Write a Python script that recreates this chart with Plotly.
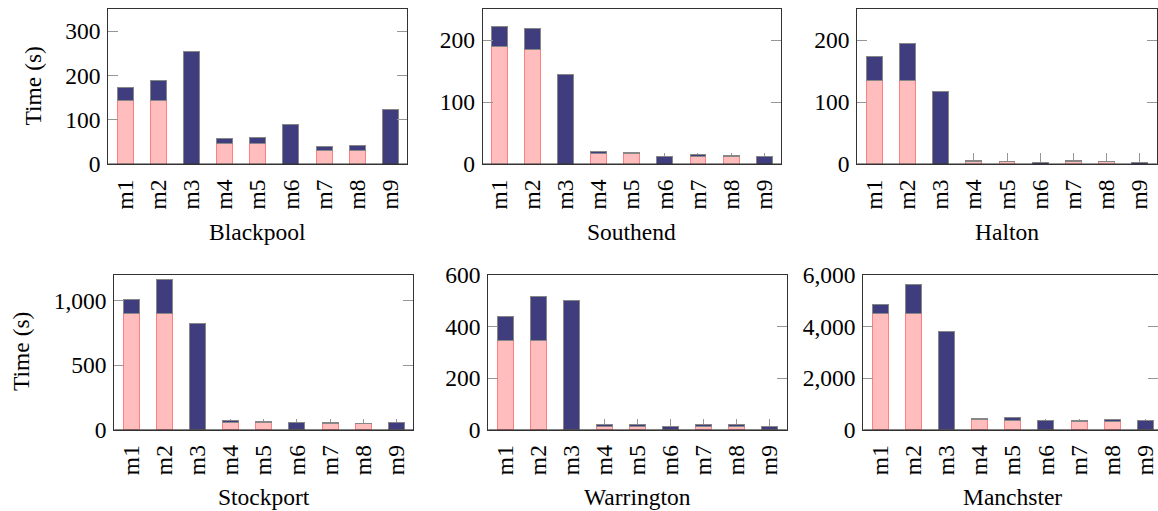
import plotly.graph_objects as go

methods = ["m1", "m2", "m3", "m4", "m5", "m6", "m7", "m8", "m9"]
cities = ["Blackpool", "Southend", "Halton", "Stockport", "Warrington", "Manchster"]

# lower (pink) segment and upper (navy) segment of each stacked bar, seconds
blackpool_pink = [144, 143, 0, 47, 47, 0, 30, 30, 0]
blackpool_navy = [28, 45, 253, 11, 13, 89, 10, 11, 123]
southend_pink = [190, 184, 0, 16.5, 17, 0, 11.5, 12, 0]
southend_navy = [31, 34, 145, 3.5, 1, 12, 4, 1.5, 12.5]
halton_pink = [135, 135, 0, 4.5, 4, 0, 4.5, 4, 0]
halton_navy = [39, 60, 117, 1.5, 0.5, 3, 1.5, 0.5, 3]
stockport_pink = [902, 902, 0, 59, 57, 0, 49, 48, 0]
stockport_navy = [108, 263, 822, 11, 7, 54, 10, 3, 53]
warrington_pink = [345, 345, 0, 12, 12, 0, 12, 12, 0]
warrington_navy = [93, 172, 499, 7, 7, 14, 7, 7, 14]
manchester_pink = [4516, 4516, 0, 387, 374, 0, 323, 323, 0]
manchester_navy = [349, 1110, 3806, 52, 103, 370, 38, 90, 361]

pinks = [blackpool_pink, southend_pink, halton_pink, stockport_pink, warrington_pink, manchester_pink]
navys = [blackpool_navy, southend_navy, halton_navy, stockport_navy, warrington_navy, manchester_navy]
y_max = [350, 250, 250, 1200, 600, 6000]
y_ticks = [[0, 100, 200, 300], [0, 100, 200], [0, 100, 200], [0, 500, 1000],
           [0, 200, 400, 600], [0, 2000, 4000, 6000]]

W, H = 1158, 511
# pixel boxes (left, right, top, bottom)
boxes = [
    (108.3, 407.3, 9, 164),
    (482.7, 781.0, 9, 164),
    (857.3, 1156.7, 9, 164),
    (114.3, 413.3, 274.7, 429.7),
    (488.3, 786.7, 274.7, 429.7),
    (863.3, 1162.3, 274.7, 429.7),
]

PINK = "rgb(255,189,189)"
PINK_EDGE = "rgb(255,128,128)"
NAVY = "rgb(63,61,125)"
NAVY_EDGE = "rgb(135,135,135)"
AXIS = "rgb(50,50,50)"
TICK = "rgb(150,150,150)"
FONT = "Liberation Serif"
FS = 23.5

fig = go.Figure()
layout = dict(
    template="none",
    width=W, height=H, margin=dict(l=0, r=0, t=0, b=0, pad=0), autosize=False,
    barmode="stack", paper_bgcolor="white", plot_bgcolor="white",
    showlegend=False, font=dict(family=FONT, size=FS, color="black"),
)
annotations = []
shapes = []

for i in range(6):
    n = i + 1
    xs = "x" if n == 1 else f"x{n}"
    ys = "y" if n == 1 else f"y{n}"
    l, r, t, b = boxes[i]
    rng_hi = 8.51
    if r > W:
        # panel is cut at the right edge of the picture
        span = 9.02 / (r - l)
        rng_hi = -0.51 + (W - l) * span
        r = W
    fig.add_trace(go.Bar(x=methods, y=pinks[i], xaxis=xs, yaxis=ys, width=0.48,
                         marker=dict(color=PINK, line=dict(color=PINK_EDGE, width=1))))
    fig.add_trace(go.Bar(x=methods, y=navys[i], xaxis=xs, yaxis=ys, width=0.48,
                         marker=dict(color=NAVY, line=dict(color=NAVY_EDGE, width=1))))
    xkey = "xaxis" if n == 1 else f"xaxis{n}"
    ykey = "yaxis" if n == 1 else f"yaxis{n}"
    layout[xkey] = dict(
        type="category", domain=[l / W, r / W], anchor=ys, range=[-0.51, rng_hi],
        automargin=False,
        showline=True, linecolor=AXIS, linewidth=1, mirror=True,
        ticks="inside", ticklen=11, tickcolor=TICK, tickwidth=1,
        tickangle=-90, tickfont=dict(family=FONT, size=FS, color="black"),
        ticklabelstandoff=5,
        layer="below traces", showgrid=False, zeroline=False, fixedrange=True,
    )
    layout[ykey] = dict(
        domain=[1 - b / H, 1 - t / H], anchor=xs, range=[0, y_max[i]],
        automargin=False,
        tickvals=y_ticks[i], tickformat=",",
        showline=True, linecolor=AXIS, linewidth=1, mirror="ticks",
        ticks="inside", ticklen=10, tickcolor=TICK, tickwidth=1,
        tickfont=dict(family=FONT, size=FS, color="black"),
        ticklabelstandoff=2,
        showgrid=False, zeroline=False, fixedrange=True,
    )
    shapes.append(dict(type="line", xref=f"{xs} domain", yref=ys, x0=0, x1=1, y0=0, y1=0,
                       line=dict(color=AXIS, width=1), layer="above"))
    title_y = 231.5 if i < 3 else 496.5
    annotations.append(dict(text=cities[i], x=(l + boxes[i][1]) / 2 / W, y=1 - title_y / H,
                            xref="paper", yref="paper", xanchor="center", yanchor="middle",
                            showarrow=False, font=dict(family=FONT, size=FS, color="black")))

annotations.append(dict(text="Time (s)", x=33 / W, y=1 - 86.5 / H, xref="paper", yref="paper",
                        xanchor="center", yanchor="middle", textangle=-90, showarrow=False,
                        font=dict(family=FONT, size=FS, color="black")))
annotations.append(dict(text="Time (s)", x=21 / W, y=1 - 352 / H, xref="paper", yref="paper",
                        xanchor="center", yanchor="middle", textangle=-90, showarrow=False,
                        font=dict(family=FONT, size=FS, color="black")))

layout["annotations"] = annotations
layout["shapes"] = shapes
fig.update_layout(**layout)
fig.write_html("out.html", config={"displayModeBar": False},
               post_script="document.body.style.margin='0';document.body.style.overflow='hidden';")
